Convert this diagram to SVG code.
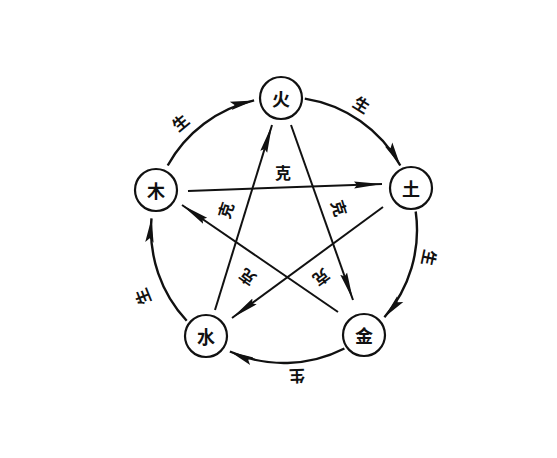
<svg xmlns="http://www.w3.org/2000/svg" width="557" height="458" viewBox="0 0 557 458">
<style>
.node circle{fill:#fff;stroke:#111;stroke-width:2.2}
.node text{font-family:"Noto Sans CJK SC","Noto Sans CJK JP",sans-serif;font-size:18px;font-weight:700;fill:#111;text-anchor:middle;dominant-baseline:central}
.lbl{font-family:"Noto Sans CJK SC","Noto Sans CJK JP",sans-serif;font-size:16px;font-weight:700;fill:#111;text-anchor:middle;dominant-baseline:central}
.arc{fill:none;stroke:#111;stroke-width:2.4;marker-end:url(#ah)}
.ke{fill:none;stroke:#111;stroke-width:2;marker-end:url(#ah2)}
</style>
<defs>
<marker id="ah" markerUnits="userSpaceOnUse" markerWidth="30" markerHeight="12" refX="24" refY="5" orient="auto" viewBox="0 0 30 10">
<path d="M0,0.8 L24,5 L0,9.2 L4,5 Z" fill="#111"/>
</marker>
<marker id="ah2" markerUnits="userSpaceOnUse" markerWidth="32" markerHeight="12" refX="28" refY="5" orient="auto" viewBox="0 0 32 10">
<path d="M0,1.4 L28,5 L0,8.6 L3,5 Z" fill="#111"/>
</marker>
</defs>
<rect width="557" height="458" fill="#fff"/>
<g id="connectors">
<path class="arc" d="M304.8,98.6 A133,133 0 0 1 400.3,165.5"/>
<path class="arc" d="M415.7,211.5 A133,133 0 0 1 384.4,317.3"/>
<path class="arc" d="M344.4,348.5 A133,133 0 0 1 229.9,351.5"/>
<path class="arc" d="M186.7,320.7 A133,133 0 0 1 151.5,218.4"/>
<path class="arc" d="M167.7,165.5 A133,133 0 0 1 254.1,100.4"/>
<path class="ke" d="M188,191 L382,184"/>
<path class="ke" d="M383,207 L232,318"/>
<path class="ke" d="M215,310 L272,125"/>
<path class="ke" d="M291,125 L353,300"/>
<path class="ke" d="M338,312 L182,205"/>
</g>
<g id="labels">
<text class="lbl" transform="translate(180,122) rotate(-40)">生</text>
<text class="lbl" transform="translate(362,104) rotate(32)">生</text>
<text class="lbl" transform="translate(430,258) rotate(102)">生</text>
<text class="lbl" transform="translate(297,377) rotate(178)">生</text>
<text class="lbl" transform="translate(142,297) rotate(-112)">生</text>
<text class="lbl" transform="translate(283,172)">克</text>
<text class="lbl" transform="translate(340,208) rotate(72)">克</text>
<text class="lbl" transform="translate(322,278) rotate(144)">克</text>
<text class="lbl" transform="translate(247,278) rotate(-144)">克</text>
<text class="lbl" transform="translate(225,210) rotate(-72)">克</text>
</g>
<g id="fire" class="node"><circle cx="281" cy="98" r="21"/><text x="281" y="98">火</text></g>
<g id="earth" class="node"><circle cx="411" cy="188" r="21"/><text x="411" y="188">土</text></g>
<g id="metal" class="node"><circle cx="364" cy="335" r="21"/><text x="364" y="335">金</text></g>
<g id="water" class="node"><circle cx="206" cy="336" r="21"/><text x="206" y="336">水</text></g>
<g id="wood" class="node"><circle cx="156" cy="190" r="21"/><text x="156" y="190">木</text></g>
</svg>
